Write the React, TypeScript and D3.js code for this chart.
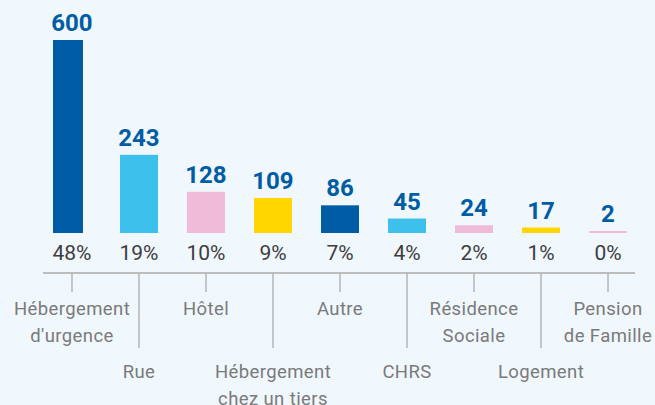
import React from "react";
import * as d3 from "d3";

const categories = [
  "Hébergement d'urgence",
  "Rue",
  "Hôtel",
  "Hébergement chez un tiers",
  "Autre",
  "CHRS",
  "Résidence Sociale",
  "Logement",
  "Pension de Famille",
];
const labelLines = [
  ["Hébergement", "d'urgence"],
  ["Rue"],
  ["Hôtel"],
  ["Hébergement", "chez un tiers"],
  ["Autre"],
  ["CHRS"],
  ["Résidence", "Sociale"],
  ["Logement"],
  ["Pension", "de Famille"],
];
const values = [600, 243, 128, 109, 86, 45, 24, 17, 2];
const percents = ["48%", "19%", "10%", "9%", "7%", "4%", "2%", "1%", "0%"];
const colorKeys = ["dark", "light", "pink", "yellow", "dark", "light", "pink", "yellow", "pink"];

const palette: Record<string, string> = {
  dark: "#005ca4",
  light: "#3dc1ec",
  pink: "#f0bbd8",
  yellow: "#ffd600",
};

const W = 655;
const H = 405;
const baseY = 233;

export default function App() {
  const x = d3.scaleBand<string>().domain(categories).range([53, 627]).paddingInner(0.433).paddingOuter(0);
  const y = d3.scaleLinear().domain([0, 600]).range([baseY, 40]);
  const bw = x.bandwidth();
  const axisY = 273;
  const font = "Roboto, 'Noto Sans', sans-serif";

  return (
    <svg width={W} height={H} style={{ position: "absolute", left: 0, top: 0, background: "#f0f7fd" }}>
      <rect x={0} y={0} width={W} height={H} fill="#f0f7fd" />
      {categories.map((c, i) => {
        const x0 = x(c)!;
        const cx = x0 + bw / 2;
        const w = i === 0 ? bw * (30 / 38) : bw;
        const h = Math.max(baseY - y(values[i]), 2);
        return (
          <g key={c}>
            <rect x={x0} y={baseY - h} width={w} height={h} fill={palette[colorKeys[i]]} />
            <text
              x={cx}
              y={baseY - h - 9}
              textAnchor="middle"
              fontFamily={font}
              fontWeight={700}
              fontSize={24}
              fill="#005ca4"
            >
              {values[i]}
            </text>
            <text x={cx} y={260} textAnchor="middle" fontFamily={font} fontSize={21} fill="#3d3d3d">
              {percents[i]}
            </text>
          </g>
        );
      })}
      <line x1={43} x2={635} y1={axisY} y2={axisY} stroke="#aaaaaa" strokeWidth={1.5} />
      {categories.map((c, i) => {
        const cx = x(c)! + bw / 2;
        const long = i % 2 === 1;
        const tickEnd = long ? 348 : 292;
        const firstBase = long ? 378 : 315;
        return (
          <g key={"t" + c}>
            <line x1={cx} x2={cx} y1={axisY} y2={tickEnd} stroke="#b5b5b5" strokeWidth={1.5} />
            {labelLines[i].map((ln, j) => (
              <text
                key={j}
                x={cx}
                y={firstBase + j * 27}
                textAnchor="middle"
                fontFamily={font}
                fontSize={18.5}
                letterSpacing={0.4}
                fill="#7a7a7a"
              >
                {ln}
              </text>
            ))}
          </g>
        );
      })}
    </svg>
  );
}
